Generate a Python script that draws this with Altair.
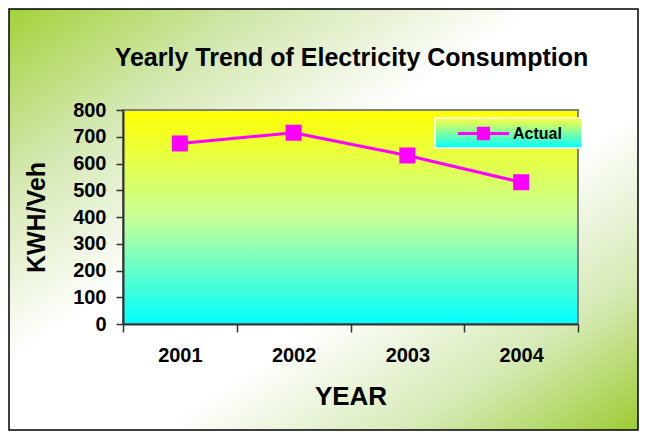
import altair as alt
import pandas as pd

years = ["2001", "2002", "2003", "2004"]
actual = [675, 715, 630, 530]
series = ["Actual"]
y_ticks = [0, 100, 200, 300, 400, 500, 600, 700, 800]
title_text = "Yearly Trend of Electricity Consumption"

df = pd.DataFrame({"year": years, "value": actual, "series": series * len(years)})
one = pd.DataFrame({"k": [0]})

W, H = 455, 214
PL, PT, PR, PB = 115, 102, 61, 107
FONT = "Liberation Sans"

bg_grad = {
    "gradient": "linear", "x1": 0, "y1": 0, "x2": 1, "y2": 1,
    "stops": [
        {"offset": 0, "color": "#a3d23a"},
        {"offset": 0.2, "color": "#d2e7ad"},
        {"offset": 0.42, "color": "#ffffff"},
        {"offset": 0.62, "color": "#ffffff"},
        {"offset": 0.82, "color": "#d6eab5"},
        {"offset": 1, "color": "#9ccc33"},
    ],
}
plot_grad = {
    "gradient": "linear", "x1": 0, "y1": 0, "x2": 0, "y2": 1,
    "stops": [
        {"offset": 0, "color": "#ffff00"},
        {"offset": 0.5, "color": "#c8ff96"},
        {"offset": 1, "color": "#00ffff"},
    ],
}
leg_grad = {
    "gradient": "linear", "x1": 0, "y1": 0, "x2": 0, "y2": 1,
    "stops": [
        {"offset": 0, "color": "#ffff40"},
        {"offset": 1, "color": "#00ffff"},
    ],
}

background = alt.Chart(one).mark_rect(
    fill=bg_grad, stroke="#000000", strokeWidth=1.5
).encode(
    x=alt.value(-PL + 1), x2=alt.value(W + PR - 1),
    y=alt.value(-PT + 1), y2=alt.value(H + PB - 1),
)

plot_bg = alt.Chart(one).mark_rect(
    fill=plot_grad, stroke="#808080", strokeWidth=2
).encode(
    x=alt.value(0), x2=alt.value(W), y=alt.value(0), y2=alt.value(H)
)

legend_bg = alt.Chart(one).mark_rect(
    fill=leg_grad, stroke="#ffffff", strokeWidth=1.5
).encode(
    x=alt.value(312), x2=alt.value(459), y=alt.value(8), y2=alt.value(38)
)

title = alt.Chart(one).mark_text(
    text=title_text, font=FONT, fontSize=25, fontWeight="bold",
    color="#000000", align="center", baseline="alphabetic",
).encode(x=alt.value(W / 2 + 1), y=alt.value(-44))

x_enc = alt.X(
    "year:N",
    sort=years,
    scale=alt.Scale(type="band", paddingInner=0, paddingOuter=0),
    axis=alt.Axis(
        title="YEAR", labelAngle=0, tickBand="extent", tickSize=8,
        labelPadding=13, titlePadding=18, zindex=1,
    ),
)
y_enc = alt.Y(
    "value:Q",
    scale=alt.Scale(domain=[0, 800], nice=False),
    axis=alt.Axis(
        title="KWH/Veh", values=y_ticks, tickSize=7, labelPadding=10,
        titlePadding=23, zindex=1,
    ),
)

sym = ("M-1,-0.06L-0.26,-0.06L-0.26,-0.26L0.26,-0.26L0.26,-0.06L1,-0.06"
       "L1,0.06L0.26,0.06L0.26,0.26L-0.26,0.26L-0.26,0.06L-1,0.06Z")

line = alt.Chart(df).mark_line(strokeWidth=3).encode(
    x=x_enc, y=y_enc,
    color=alt.Color(
        "series:N",
        scale=alt.Scale(domain=series, range=["#ff00ff"]),
        legend=alt.Legend(
            title=None, orient="none", legendX=335, legendY=-2,
            symbolType=sym, symbolSize=2601, symbolFillColor="#ff00ff",
            symbolStrokeWidth=0, labelFont=FONT, labelFontWeight="bold",
            labelFontSize=16, labelColor="#000000", labelOffset=4, padding=0,
            zindex=2,
        ),
    ),
)

points = alt.Chart(df).mark_square(
    size=256, filled=True, opacity=1, color="#ff00ff"
).encode(x=x_enc, y=y_enc)

chart = alt.layer(background, title, plot_bg, line, points, legend_bg).properties(
    width=W, height=H,
    autosize=alt.AutoSizeParams(type="none"),
    padding={"left": PL, "top": PT, "right": PR, "bottom": PB},
).configure_axis(
    labelFont=FONT, labelFontWeight="bold", labelColor="#000000",
    titleFont=FONT, titleFontWeight="bold", titleColor="#000000",
    domainColor="#333333", domainWidth=2, tickColor="#333333", tickWidth=1.5,
    grid=False,
).configure_axisX(
    labelFontSize=20, titleFontSize=26,
).configure_axisY(
    labelFontSize=20, titleFontSize=25,
).configure_view(stroke=None)

chart.save("out.html", embed_options={"renderer": "svg", "actions": False})
